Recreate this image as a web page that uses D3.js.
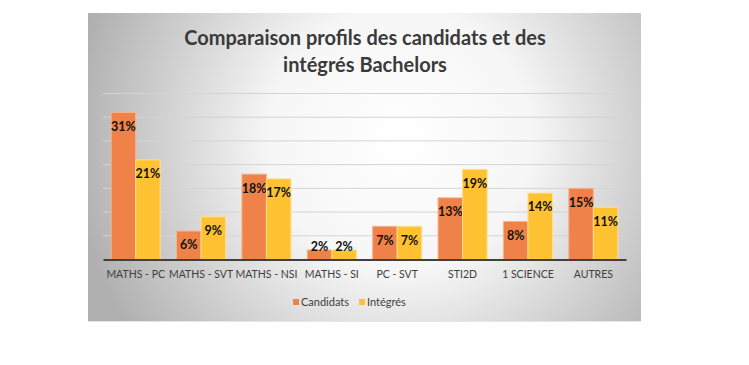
<!DOCTYPE html>
<html>
<head>
<meta charset="utf-8">
<script src="https://cdn.jsdelivr.net/npm/d3@7"></script>
<style>
  body { margin: 0; background: #fff; }
  text { font-family: Lato, "Open Sans", sans-serif; }
</style>
</head>
<body>
<div id="chart"></div>
<script>

// data
var categories = ["MATHS - PC", "MATHS - SVT", "MATHS - NSI", "MATHS - SI", "PC - SVT", "STI2D", "1 SCIENCE", "AUTRES"];
var candidats = [31, 6, 18, 2, 7, 13, 8, 15];
var integres = [21, 9, 17, 2, 7, 19, 14, 11];
var seriesNames = ["Candidats", "Intégrés"];
var yTicks = [0, 5, 10, 15, 20, 25, 30, 35];

var colors = ["#ee8248", "#ffc233"];

var W = 749, H = 365;
var box = {x: 88, y: 13, w: 553, h: 308};
var margin = {top: 93.5, left: 103, right: 749 - 626, bottom: 365 - 259.5};
var width = W - margin.left - margin.right,
    height = H - margin.top - margin.bottom;

var svg = d3.select("#chart")
  .append("svg")
    .attr("width", W)
    .attr("height", H);

// background with radial grey gradient
var defs = svg.append("defs");
var grad = defs.append("radialGradient")
    .attr("id", "bg")
    .attr("gradientUnits", "userSpaceOnUse")
    .attr("cx", 400).attr("cy", 140).attr("r", 330);
grad.append("stop").attr("offset", "0%").attr("stop-color", "#ffffff");
grad.append("stop").attr("offset", "40%").attr("stop-color", "#f6f6f6");
grad.append("stop").attr("offset", "100%").attr("stop-color", "#b0b0b0");

svg.append("rect")
    .attr("x", box.x).attr("y", box.y + 1)
    .attr("width", box.w).attr("height", box.h)
    .attr("fill", "#e6e6e6");
svg.append("rect")
    .attr("x", box.x).attr("y", box.y)
    .attr("width", box.w).attr("height", box.h)
    .attr("fill", "url(#bg)");

var g = svg.append("g")
    .attr("transform", "translate(" + margin.left + "," + margin.top + ")");

var x0 = d3.scaleBand()
    .domain(categories)
    .range([0, width])
    .paddingInner(0.25)
    .paddingOuter(0.125);

var x1 = d3.scaleBand()
    .domain(seriesNames)
    .range([0, x0.bandwidth()]);

var y = d3.scaleLinear()
    .domain([0, 35])
    .range([height, 0]);

// gridlines
g.append("g")
  .selectAll("line")
  .data(yTicks.slice(1))
  .enter()
  .append("line")
    .attr("x1", 0).attr("x2", width)
    .attr("y1", function(d) { return y(d); })
    .attr("y2", function(d) { return y(d); })
    .attr("stroke", "#d4d4d4")
    .attr("stroke-width", 1);

var rows = categories.map(function(c, i) {
  return {cat: c, values: [candidats[i], integres[i]]};
});

var groups = g.selectAll(".grp")
  .data(rows)
  .enter()
  .append("g")
    .attr("transform", function(d) { return "translate(" + x0(d.cat) + ",0)"; });

var bars = groups.selectAll("g")
  .data(function(d) { return d.values.map(function(v, k) { return {k: k, v: v}; }); })
  .enter()
  .append("g");

bars.append("rect")
    .attr("x", function(d) { return x1(seriesNames[d.k]); })
    .attr("y", function(d) { return y(d.v); })
    .attr("width", x1.bandwidth())
    .attr("height", function(d) { return height - y(d.v); })
    .attr("fill", function(d) { return colors[d.k]; })
    .attr("stroke", function(d) { return d.k == 0 ? "#f6b48e" : "#ffde8c"; })
    .attr("stroke-width", 1);

bars.append("text")
    .attr("x", function(d) { return x1(seriesNames[d.k]) + x1.bandwidth() / 2; })
    .attr("y", function(d) {
      var h = height - y(d.v);
      return h < 20 ? y(d.v) - 3 : y(d.v) + 14;
    })
    .attr("dy", "0.35em")
    .attr("text-anchor", "middle")
    .style("font-size", "12.5px")
    .style("font-weight", "bold")
    .style("fill", "#111")
    .text(function(d) { return d.v + "%"; });

// x axis
var xAxis = g.append("g")
    .attr("transform", "translate(0," + height + ")")
    .call(d3.axisBottom(x0).tickSize(0).tickPadding(11));
xAxis.select(".domain")
    .attr("stroke", "#404040")
    .attr("stroke-width", 2);
xAxis.selectAll("text")
    .style("font-size", "10.5px")
    .style("font-family", "Lato, sans-serif")
    .style("fill", "#404040");

// title
svg.append("text")
    .attr("x", 365)
    .attr("y", 45)
    .attr("text-anchor", "middle")
    .style("font-size", "20px")
    .style("font-weight", "bold")
    .style("fill", "#3a3a3a")
    .text("Comparaison profils des candidats et des");
svg.append("text")
    .attr("x", 365)
    .attr("y", 72)
    .attr("text-anchor", "middle")
    .style("font-size", "20px")
    .style("font-weight", "bold")
    .style("fill", "#3a3a3a")
    .text("intégrés Bachelors");

// legend
var legendX = [293, 359];
var legend = svg.selectAll(".leg")
  .data(seriesNames)
  .enter()
  .append("g")
    .attr("transform", function(d, i) { return "translate(" + legendX[i] + ",302)"; });
legend.append("rect")
    .attr("x", 0).attr("y", -3)
    .attr("width", 6).attr("height", 6)
    .attr("fill", function(d, i) { return colors[i]; });
legend.append("text")
    .attr("x", 8)
    .attr("dy", "0.35em")
    .style("font-size", "11px")
    .style("fill", "#404040")
    .text(function(d) { return d; });

</script>
</body>
</html>
